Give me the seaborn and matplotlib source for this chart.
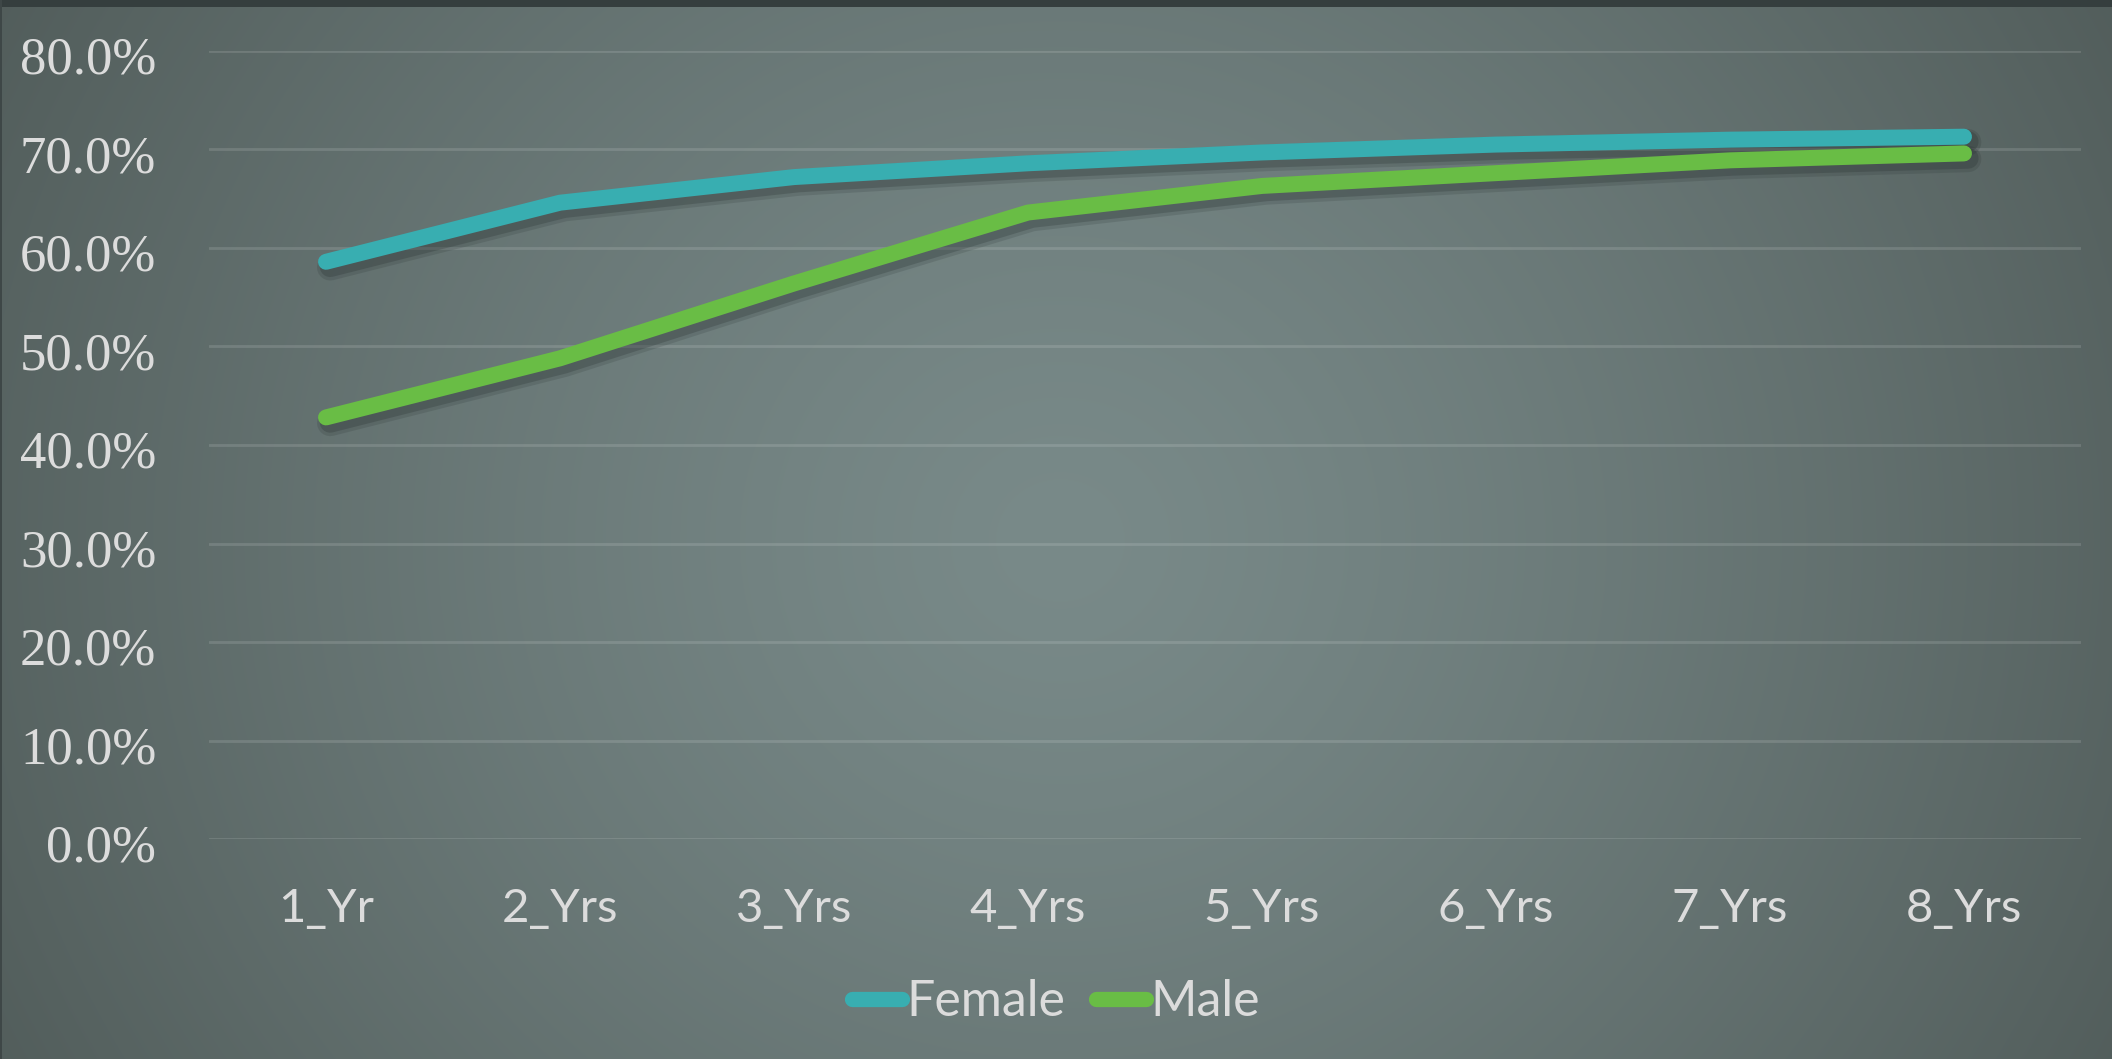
import numpy as np
import pandas as pd
import matplotlib
matplotlib.use("Agg")
import matplotlib.pyplot as plt
import matplotlib.patheffects as pe
import matplotlib.transforms as mtransforms
from matplotlib.ticker import PercentFormatter
import seaborn as sns

# ---- data ----
years = ["1_Yr", "2_Yrs", "3_Yrs", "4_Yrs", "5_Yrs", "6_Yrs", "7_Yrs", "8_Yrs"]
female = [58.6, 64.6, 67.2, 68.6, 69.7, 70.5, 71.0, 71.3]
male = [42.8, 48.8, 56.4, 63.6, 66.3, 67.6, 68.9, 69.6]
series_names = ["Female", "Male"]
y_ticks = [0, 10, 20, 30, 40, 50, 60, 70, 80]

df = pd.DataFrame({
    "Year": years * 2,
    "Rate": female + male,
    "Gender": [series_names[0]] * len(years) + [series_names[1]] * len(years),
})

W, H = 2112, 1059
DPI = 100
sns.set_theme(style="white")
plt.rcParams["font.family"] = ["Lato", "DejaVu Sans"]

fig = plt.figure(figsize=(W / DPI, H / DPI), dpi=DPI)

# ---- background: radial gradient ----
bg = fig.add_axes([0, 0, 1, 1], zorder=0)
yy, xx = np.mgrid[0:H, 0:W]
cx, cy = 1060, 540
d = np.sqrt(((xx - cx) / 1.0) ** 2 + ((yy - cy) / 0.95) ** 2)
t = np.clip(d / 1250.0, 0, 1) ** 1.3
c0 = np.array([0x79, 0x8a, 0x89]) / 255.0
c1 = np.array([0x50, 0x5b, 0x59]) / 255.0
img = c0[None, None, :] * (1 - t[..., None]) + c1[None, None, :] * t[..., None]
img[0:7, :, :] = np.array([0x35, 0x3e, 0x3e]) / 255.0
img[:, 0:2, :] = np.array([0x3e, 0x47, 0x47]) / 255.0
bg.imshow(img, aspect="auto", interpolation="bilinear", extent=(0, W, H, 0))
bg.set_axis_off()

# ---- main axes ----
left = 209 / W
right = 2081 / W
bottom = (H - 839) / H
top = (H - 51) / H
ax = fig.add_axes([left, bottom, right - left, top - bottom], zorder=1)
ax.set_facecolor("none")

palette = {"Female": "#38AEB1", "Male": "#69BD45"}
shadow = [
    pe.SimpleLineShadow(offset=(3, -4), shadow_color="#1e2626", alpha=0.15, linewidth=19),
    pe.SimpleLineShadow(offset=(3, -3.5), shadow_color="#1e2626", alpha=0.22, linewidth=15),
    pe.Normal(),
]
sns.lineplot(data=df, x="Year", y="Rate", hue="Gender", palette=palette,
             linewidth=11.5, sort=False, ax=ax, legend=True)
for ln in ax.lines:
    ln.set_solid_capstyle("round")
    ln.set_solid_joinstyle("round")
    ln.set_path_effects(shadow)
    ln.set_zorder(3)

ax.set_xlim(-0.5, len(years) - 0.5)
ax.set_ylim(0, 80)
ax.set_yticks(y_ticks)
ax.yaxis.set_major_formatter(PercentFormatter(decimals=1))
ax.grid(axis="y", color="#ffffff", alpha=0.13, linewidth=2.0)
ax.grid(axis="x", visible=False)
for s in ax.spines.values():
    s.set_visible(False)
ax.set_xlabel("")
ax.set_ylabel("")
ax.tick_params(axis="both", length=0)
ax.tick_params(axis="y", pad=38)
ax.tick_params(axis="x", pad=35)
shift = mtransforms.ScaledTranslation(0, -3 / 72, fig.dpi_scale_trans)
for lab in ax.get_yticklabels():
    lab.set_fontfamily(["Liberation Serif", "DejaVu Serif"])
    lab.set_fontsize(38)
    lab.set_color("#dcdcdc")
    lab.set_transform(lab.get_transform() + shift)
for lab in ax.get_xticklabels():
    lab.set_fontsize(34)
    lab.set_color("#dcdcdc")

handles, labels = ax.get_legend_handles_labels()
ax.get_legend().remove()
for h in handles:
    h.set_linewidth(11)
    h.set_solid_capstyle("round")
    h.set_path_effects([])
leg = fig.legend(handles, labels, loc="center", bbox_to_anchor=(0.5, 1 - 1002 / H),
                 ncol=2, frameon=False, fontsize=36, handlelength=1.0,
                 handletextpad=0.1, columnspacing=0.6, labelcolor="#dcdcdc")
for h in leg.get_lines():
    h.set_path_effects([])

fig.savefig("out.png", dpi=DPI)
